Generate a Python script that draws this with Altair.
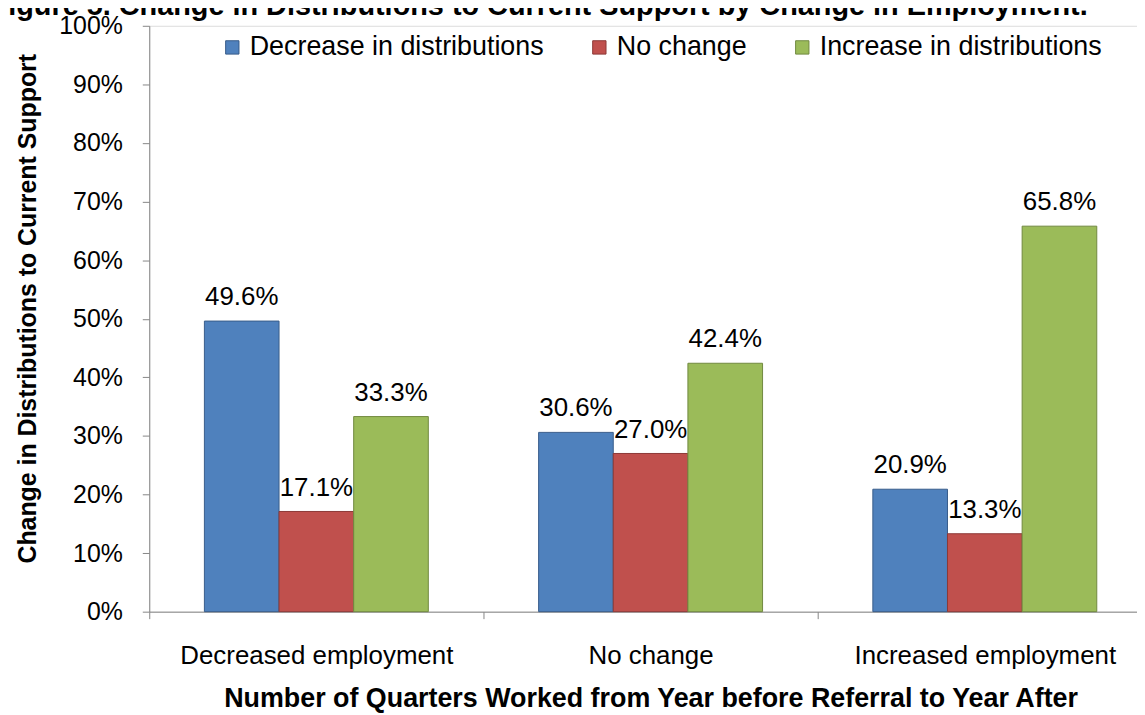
import altair as alt
import pandas as pd

title_text = "Figure 5. Change in Distributions to Current Support by Change in Employment."
categories = ["Decreased employment", "No change", "Increased employment"]
series = ["Decrease in distributions", "No change", "Increase in distributions"]
decrease_vals = [49.6, 30.6, 20.9]
nochange_vals = [17.1, 27.0, 13.3]
increase_vals = [33.3, 42.4, 65.8]
fill_colors = ["#4F81BD", "#C0504D", "#9BBB59"]
stroke_colors = ["#385D8A", "#8C3836", "#71893F"]
y_ticks = [0, 10, 20, 30, 40, 50, 60, 70, 80, 90, 100]

rows = []
for s, vals in zip(series, [decrease_vals, nochange_vals, increase_vals]):
    for c, v in zip(categories, vals):
        rows.append({"category": c, "series": s, "value": v, "label": f"{v:.1f}%"})
df = pd.DataFrame(rows)

FONT = "Liberation Sans"

x_enc = alt.X(
    "category:N",
    sort=categories,
    scale=alt.Scale(range=[0, 1008], paddingInner=0.33, paddingOuter=0.165),
    axis=alt.Axis(
        title="Number of Quarters Worked from Year before Referral to Year After",
        labelAngle=0,
        labelFontSize=26,
        labelFont=FONT,
        labelColor="#000000",
        labelPadding=24,
        labelLimit=0,
        tickOffset=-168,
        labelOffset=168,
        tickSize=7,
        tickColor="#868686",
        domainColor="#868686",
        titleFontSize=27,
        titleFont=FONT,
        titleFontWeight="bold",
        titleColor="#000000",
        titlePadding=17,
        titleX=504,
        titleLimit=0,
    ),
)
xoff_enc = alt.XOffset("series:N", sort=series, scale=alt.Scale(paddingInner=0, paddingOuter=0))
y_enc = alt.Y(
    "value:Q",
    scale=alt.Scale(domain=[0, 100], nice=False),
    axis=alt.Axis(
        title="Change in Distributions to Current Support",
        values=y_ticks,
        labelExpr="datum.value + '%'",
        labelFontSize=25,
        labelFont=FONT,
        labelColor="#000000",
        labelPadding=20,
        tickSize=7,
        tickColor="#868686",
        domainColor="#868686",
        grid=False,
        titleFontSize=25,
        titleFont=FONT,
        titleFontWeight="bold",
        titleColor="#000000",
        titlePadding=18,
        titleY=284,
        titleLimit=0,
    ),
)

color_scale = alt.Scale(domain=series, range=fill_colors)
stroke_scale = alt.Scale(domain=series, range=stroke_colors)

legend = alt.Legend(
    title=None,
    orient="none",
    direction="horizontal",
    legendX=70,
    legendY=8,
    symbolType="square",
    symbolSize=180,
    symbolStrokeWidth=1,
    labelFontSize=27,
    labelFont=FONT,
    labelColor="#000000",
    labelOffset=4,
    labelLimit=0,
    columnPadding=42,
)

bars = alt.Chart(df).mark_bar(strokeWidth=1).encode(
    x=x_enc,
    xOffset=xoff_enc,
    y=y_enc,
    fill=alt.Fill("series:N", sort=series, scale=color_scale, legend=legend),
    stroke=alt.Stroke("series:N", sort=series, scale=stroke_scale, legend=legend),
)

labels = alt.Chart(df).mark_text(
    baseline="alphabetic", dy=-16, fontSize=26, font=FONT, color="#000000"
).encode(
    x=alt.X("category:N", sort=categories),
    xOffset=alt.XOffset("series:N", sort=series),
    y="value:Q",
    text="label:N",
)

title = alt.Chart(pd.DataFrame({"t": [title_text]})).mark_text(
    fontSize=29, font=FONT, fontWeight="bold", color="#000000", align="center", baseline="alphabetic"
).encode(x=alt.value(392), y=alt.value(-11), text="t:N")

chart = alt.layer(bars, labels, title).properties(
    width=993,
    height=589,
    autosize=alt.AutoSizeParams(type="none"),
    padding={"left": 142, "top": 16, "right": 0, "bottom": 102},
).configure_view(stroke=None).configure(background="white")

chart.save("out.html", embed_options={"renderer": "svg", "actions": False})
